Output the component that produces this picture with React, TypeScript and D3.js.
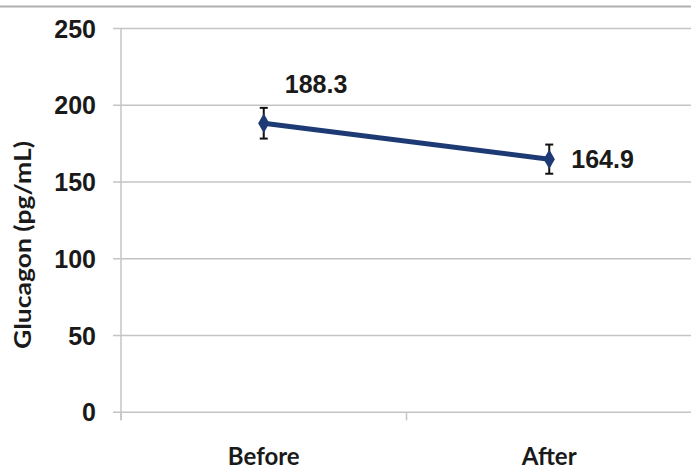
import React from "react";
import * as d3 from "d3";

const categories = ["Before", "After"];
const means = [188.3, 164.9];
const errors = [10, 9.5];
const yTicks = [0, 50, 100, 150, 200, 250];
const yTitle = "Glucagon (pg/mL)";

export default function App() {
  const W = 691, H = 470;
  const left = 121, right = 692, top = 28.5, bottom = 412.3;
  const x = d3.scaleBand<string>().domain(categories).range([left, right]);
  const y = d3.scaleLinear().domain([0, 250]).range([bottom, top]);
  const cx = (c: string) => (x(c) as number) + x.bandwidth() / 2;
  const line = d3.line<number>().x((_, i) => cx(categories[i])).y((d) => y(d));
  const grid = "#c4c4c4";
  const blue = "#1d3a74";
  const diamond = d3.symbol().type(d3.symbolDiamond).size(110)() as string;
  return (
    <svg width={W} height={H} style={{ position: "absolute", left: 0, top: 0, background: "#fff" }}>
      <line x1={0} x2={W} y1={6.5} y2={6.5} stroke="#b0b0b0" strokeWidth={2} />
      {yTicks.map((t) => (
        <g key={t}>
          <line x1={113} x2={right} y1={y(t)} y2={y(t)} stroke={grid} strokeWidth={1.5} />
          <text x={96} y={y(t) + 9} textAnchor="end" fontFamily="Liberation Sans, Arial" fontWeight="bold" fontSize={25} fill="#1a1a1a">
            {t}
          </text>
        </g>
      ))}
      <line x1={left} x2={left} y1={top} y2={bottom + 8} stroke={grid} strokeWidth={1.5} />
      {[...categories.map((c) => x(c) as number), right].map((v, i) => (
        <line key={i} x1={v} x2={v} y1={bottom} y2={bottom + 8} stroke={grid} strokeWidth={1.5} />
      ))}
      {categories.map((c) => (
        <text key={c} x={cx(c)} y={465} textAnchor="middle" fontFamily="Lato, Open Sans" fontWeight="bold" fontSize={24} fill="#1a1a1a">
          {c}
        </text>
      ))}
      <text
        transform={`translate(31,245) rotate(-90)`}
        textAnchor="middle"
        fontFamily="Lato, Open Sans"
        fontWeight="bold"
        fontSize={22}
        textLength={208}
        lengthAdjust="spacingAndGlyphs"
        fill="#1a1a1a"
      >
        {yTitle}
      </text>
      <path d={line(means) as string} fill="none" stroke={blue} strokeWidth={5} />
      {means.map((m, i) => {
        const px = cx(categories[i]);
        return (
          <g key={i}>
            <line x1={px} x2={px} y1={y(m + errors[i])} y2={y(m - errors[i])} stroke="#111" strokeWidth={2} />
            <line x1={px - 4} x2={px + 4} y1={y(m + errors[i])} y2={y(m + errors[i])} stroke="#111" strokeWidth={2} />
            <line x1={px - 4} x2={px + 4} y1={y(m - errors[i])} y2={y(m - errors[i])} stroke="#111" strokeWidth={2} />
            <path d={diamond} transform={`translate(${px},${y(m)})`} fill={blue} />
          </g>
        );
      })}
      <text x={cx(categories[0]) + 21} y={y(means[0]) - 30} fontFamily="Liberation Sans, Arial" fontWeight="bold" fontSize={25} fill="#1a1a1a">
        {means[0]}
      </text>
      <text x={cx(categories[1]) + 22} y={y(means[1]) + 9} fontFamily="Liberation Sans, Arial" fontWeight="bold" fontSize={25} fill="#1a1a1a">
        {means[1]}
      </text>
    </svg>
  );
}
